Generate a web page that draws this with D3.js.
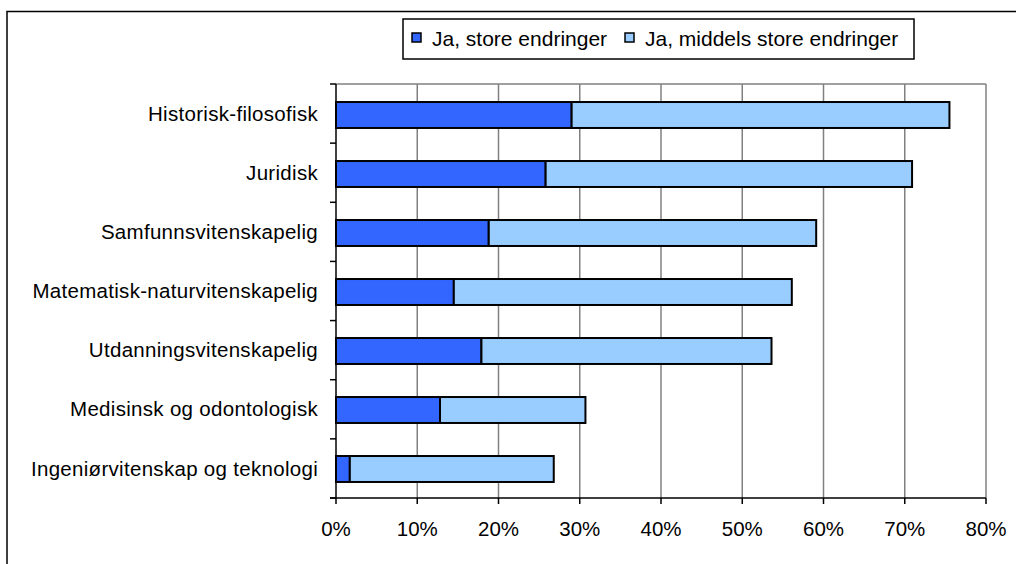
<!DOCTYPE html>
<html>
<head>
<meta charset="utf-8">
<script src="https://cdn.jsdelivr.net/npm/d3@7"></script>
<style>
  body { margin: 0; background: #fff; }
  svg { display: block; font-family: "Liberation Sans", Arial, sans-serif; }
</style>
</head>
<body>
<svg id="chart" width="1016" height="564"></svg>
<script>
const categories = [
  "Historisk-filosofisk",
  "Juridisk",
  "Samfunnsvitenskapelig",
  "Matematisk-naturvitenskapelig",
  "Utdanningsvitenskapelig",
  "Medisinsk og odontologisk",
  "Ingeniørvitenskap og teknologi"
];
const seriesNames = ["Ja, store endringer", "Ja, middels store endringer"];
const storeEndringer = [29.0, 25.8, 18.8, 14.5, 17.9, 12.8, 1.7];
const middelsEndringer = [46.5, 45.1, 40.3, 41.6, 35.7, 17.9, 25.1];
const xTicks = [0, 10, 20, 30, 40, 50, 60, 70, 80];
const colors = ["#3366FF", "#99CCFF"];

const svg = d3.select("#chart");
const plot = { left: 336, right: 986, top: 84, bottom: 498 };

// outer frame (runs past the right/bottom edge)
svg.append("rect")
  .attr("x", 7).attr("y", 11.5)
  .attr("width", 1100).attr("height", 700)
  .attr("fill", "none").attr("stroke", "#000").attr("stroke-width", 1.5);

const x = d3.scaleLinear().domain([0, 80]).range([plot.left, plot.right]);
const y = d3.scaleBand().domain(categories).range([plot.top + 1.5, plot.bottom + 0.5]).paddingInner(0.56).paddingOuter(0.28);
const yBand = d3.scaleBand().domain(categories).range([plot.top, plot.bottom]);

// gridlines + plot border top
svg.append("g")
  .selectAll("line")
  .data(xTicks.slice(1))
  .join("line")
    .attr("x1", d => x(d)).attr("x2", d => x(d))
    .attr("y1", plot.top).attr("y2", plot.bottom)
    .attr("stroke", "#808080").attr("stroke-width", 1.5);
svg.append("line")
  .attr("x1", plot.left).attr("x2", plot.right)
  .attr("y1", plot.top).attr("y2", plot.top)
  .attr("stroke", "#808080").attr("stroke-width", 1.5);

// stacked bars
const rows = categories.map((c, i) => ({ cat: c, s0: storeEndringer[i], s1: middelsEndringer[i] }));
const stack = d3.stack().keys(["s0", "s1"])(rows);

svg.append("g")
  .selectAll("g")
  .data(stack)
  .join("g")
    .attr("fill", (d, i) => colors[i])
  .selectAll("rect")
  .data(d => d)
  .join("rect")
    .attr("x", d => x(d[0]))
    .attr("width", d => x(d[1]) - x(d[0]))
    .attr("y", d => y(d.data.cat))
    .attr("height", y.bandwidth())
    .attr("stroke", "#000").attr("stroke-width", 2);

// y axis
const yAxis = svg.append("g");
yAxis.append("line")
  .attr("x1", plot.left).attr("x2", plot.left)
  .attr("y1", plot.top).attr("y2", plot.bottom)
  .attr("stroke", "#000").attr("stroke-width", 1.5);
yAxis.selectAll(".tk")
  .data(d3.range(categories.length + 1))
  .join("line")
    .attr("x1", plot.left - 6).attr("x2", plot.left)
    .attr("y1", i => plot.top + i * yBand.step()).attr("y2", i => plot.top + i * yBand.step())
    .attr("stroke", "#000").attr("stroke-width", 1.5);
yAxis.selectAll("text")
  .data(categories)
  .join("text")
    .attr("x", 318)
    .attr("y", d => yBand(d) + yBand.bandwidth() / 2)
    .attr("dy", "0.35em")
    .attr("text-anchor", "end")
    .attr("font-size", 20.5)
    .attr("letter-spacing", 0.3)
    .attr("fill", "#000")
    .text(d => d);

// x axis
const xAxis = svg.append("g");
xAxis.append("line")
  .attr("x1", plot.left - 6).attr("x2", plot.right)
  .attr("y1", plot.bottom).attr("y2", plot.bottom)
  .attr("stroke", "#000").attr("stroke-width", 1.5);
xAxis.selectAll(".tk")
  .data(xTicks)
  .join("line")
    .attr("x1", d => x(d)).attr("x2", d => x(d))
    .attr("y1", plot.bottom).attr("y2", plot.bottom + 6)
    .attr("stroke", "#000").attr("stroke-width", 1.5);
xAxis.selectAll("text")
  .data(xTicks)
  .join("text")
    .attr("x", d => x(d))
    .attr("y", 536)
    .attr("text-anchor", "middle")
    .attr("font-size", 20.5)
    .attr("fill", "#000")
    .text(d => d + "%");

// legend
const legend = svg.append("g");
legend.append("rect")
  .attr("x", 403).attr("y", 19).attr("width", 511).attr("height", 40)
  .attr("fill", "#fff").attr("stroke", "#000").attr("stroke-width", 1.5);
const legendX = [412, 625];
const items = legend.selectAll(".item")
  .data(seriesNames)
  .join("g")
    .attr("transform", (d, i) => `translate(${legendX[i]},0)`);
items.append("rect")
  .attr("x", 0).attr("y", 33).attr("width", 9).attr("height", 9)
  .attr("fill", (d, i) => colors[i]).attr("stroke", "#000").attr("stroke-width", 1.5);
items.append("text")
  .attr("x", 20).attr("y", 45.5)
  .attr("font-size", 21)
  .attr("fill", "#000")
  .text(d => d);
</script>
</body>
</html>
